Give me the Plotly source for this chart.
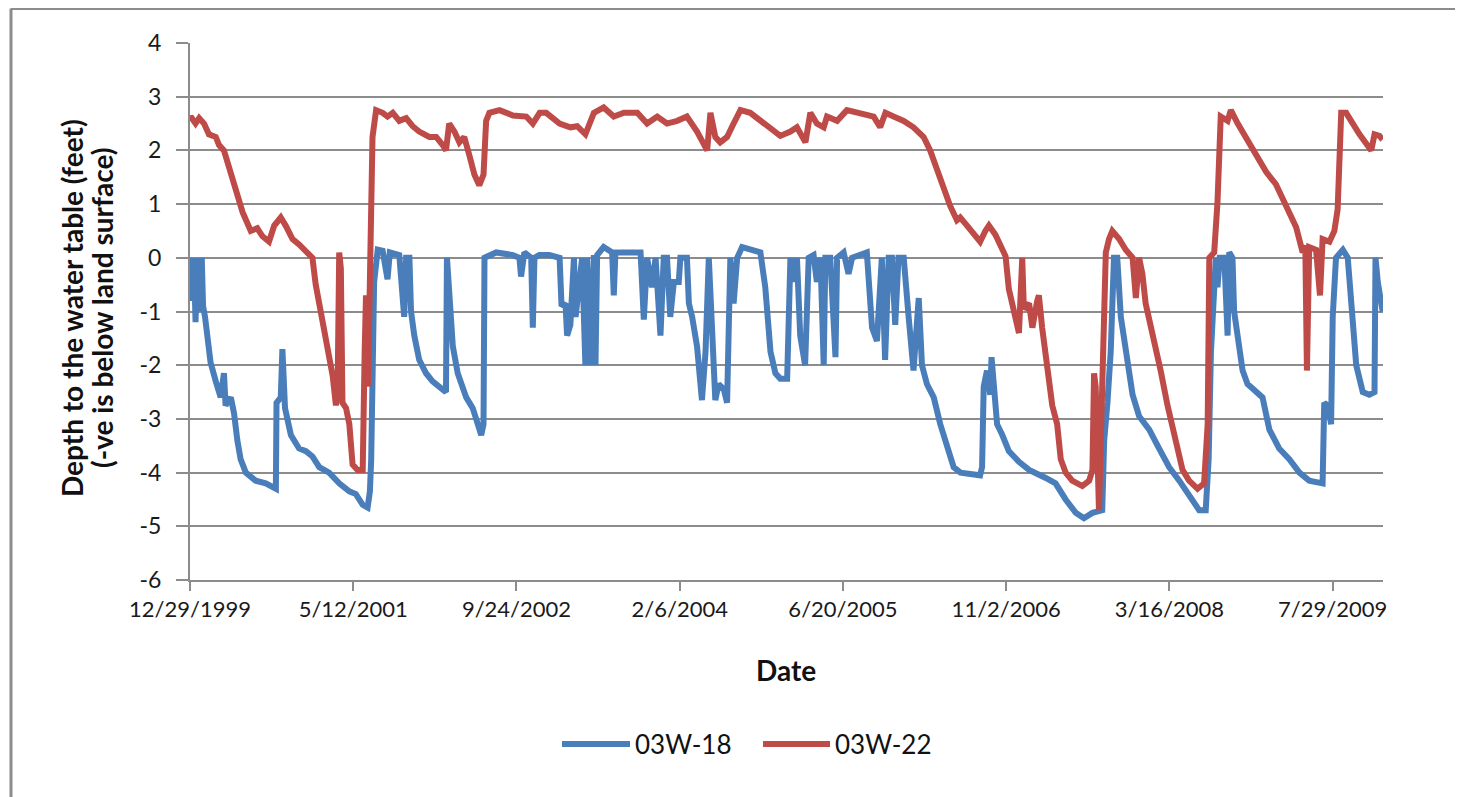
import pandas as pd
import plotly.graph_objects as go

# x values: days elapsed since 12/29/1999
start_date = "1999-12-29"

days_18 = [0, 5, 12, 17, 22, 30, 36, 40, 46, 53, 63, 79, 94, 104, 109, 125, 135, 145, 155, 171,
           201, 232, 263, 265, 278, 283, 291, 309, 334, 355, 375, 396, 426, 457, 488, 508, 529, 544,
           551, 555, 559, 564, 575, 590, 605, 612, 641, 656, 662, 672, 677, 687, 702, 723, 743, 764,
           784, 787, 794, 805, 820, 835, 846, 866, 881, 892, 899, 902, 938, 989, 1009, 1014, 1024,
           1045, 1050, 1055, 1070, 1101, 1132, 1138, 1150, 1155, 1165, 1176, 1181, 1191, 1201, 1211,
           1216, 1227, 1237, 1242, 1247, 1267, 1293, 1298, 1303, 1380, 1390, 1400, 1415, 1426, 1441,
           1451, 1461, 1471, 1482, 1497, 1502, 1522, 1528, 1538, 1553, 1568, 1579, 1589, 1599, 1609,
           1619, 1635, 1645, 1655, 1665, 1676, 1691, 1747, 1762, 1778, 1793, 1808, 1829, 1839, 1849,
           1859, 1869, 1884, 1895, 1910, 1920, 1931, 1941, 1946, 1961, 1977, 1982, 2002, 2017, 2028,
           2073, 2089, 2104, 2119, 2129, 2140, 2150, 2160, 2170, 2186, 2201, 2216, 2232, 2242, 2257,
           2278, 2298, 2319, 2339, 2360, 2420, 2426, 2431, 2441, 2451, 2455, 2461, 2467, 2472, 2488,
           2508, 2539, 2570, 2621, 2651, 2682, 2713, 2738, 2764, 2794, 2800, 2810, 2820, 2830, 2840,
           2851, 2866, 2887, 2907, 2938, 2968, 2999, 3030, 3060, 3091, 3111, 3120, 3127, 3132, 3142,
           3147, 3154, 3168, 3178, 3183, 3193, 3198, 3209, 3224, 3239, 3265, 3285, 3306, 3336, 3367,
           3398, 3428, 3469, 3474, 3485, 3495, 3500, 3510, 3531, 3546, 3556, 3572, 3592, 3612, 3628,
           3631, 3638, 3653]
depth_18 = [0.0, -0.8, 0.0, -1.2, 0.0, -1.0, 0.0, -0.9, -1.1, -1.55, -1.95, -2.3, -2.6, -2.15, -2.75,
            -2.6, -2.9, -3.4, -3.75, -4.0, -4.15, -4.2, -4.3, -2.7, -2.6, -1.7, -2.8, -3.3, -3.55,
            -3.6, -3.7, -3.9, -4.0, -4.2, -4.35, -4.4, -4.6, -4.65, -4.35, -3.75, -2.3, -0.45, 0.15,
            0.13, -0.4, 0.1, 0.05, -1.1, 0.0, 0.0, -1.0, -1.45, -1.9, -2.15, -2.3, -2.4, -2.5, 0.0,
            -0.6, -1.65, -2.15, -2.4, -2.6, -2.8, -3.15, -3.3, -3.1, 0.0, 0.1, 0.05, 0.0, -0.35, 0.1,
            0.0, -1.3, 0.0, 0.05, 0.05, 0.0, -0.9, -0.85, -1.45, -1.25, 0.0, -1.1, -0.55, 0.0, -2.0,
            0.0, -2.0, 0.05, -2.0, 0.05, 0.2, 0.1, -0.7, 0.1, 0.1, -1.15, 0.0, -0.55, 0.0, -1.45,
            0.0, 0.0, -1.1, -0.45, -0.45, 0.0, 0.0, -0.85, -1.1, -1.65, -2.65, -1.75, 0.0, -1.45,
            -2.65, -2.35, -2.45, -2.7, 0.0, -0.85, 0.0, 0.2, 0.1, -0.55, -1.75, -2.15, -2.25, -2.25,
            0.0, -0.45, 0.0, -1.45, -2.0, 0.0, 0.05, -0.45, 0.0, -2.0, 0.0, 0.0, -1.85, 0.0, 0.1,
            -0.3, 0.0, 0.1, -1.3, -1.55, 0.0, -1.9, 0.0, 0.0, -1.25, 0.0, 0.0, -1.1, -2.1, -0.75,
            -2.0, -2.35, -2.6, -3.1, -3.55, -3.9, -4.0, -4.05, -3.9, -2.4, -2.1, -2.55, -1.85, -2.2,
            -2.75, -3.1, -3.3, -3.6, -3.8, -3.95, -4.1, -4.2, -4.5, -4.75, -4.85, -4.75, -4.7, -3.4,
            -2.7, -1.75, 0.0, 0.0, -1.1, -1.75, -2.55, -2.95, -3.2, -3.55, -3.9, -4.15, -4.4, -4.7,
            -4.7, -3.75, -1.75, -0.95, 0.0, -0.55, 0.0, 0.0, -1.45, 0.1, 0.0, -1.0, -1.45, -2.1,
            -2.35, -2.5, -2.6, -3.2, -3.55, -3.75, -4.0, -4.15, -4.2, -2.7, -2.75, -3.1, -1.1, 0.0,
            0.15, 0.0, -0.85, -2.0, -2.5, -2.55, -2.5, 0.0, -0.45, -1.0]

days_22 = [0, 2, 17, 28, 43, 58, 79, 89, 104, 120, 140, 161, 186, 206, 222, 242, 258, 278, 293, 314,
           334, 355, 375, 385, 406, 421, 437, 447, 452, 457, 462, 467, 478, 488, 498, 513, 529, 535,
           539, 545, 551, 559, 570, 590, 605, 621, 641, 662, 682, 702, 733, 754, 774, 784, 794, 810,
           825, 840, 856, 871, 886, 899, 907, 917, 948, 989, 1030, 1050, 1071, 1091, 1132, 1165,
           1186, 1211, 1237, 1267, 1298, 1329, 1370, 1400, 1431, 1461, 1492, 1522, 1553, 1574, 1584,
           1594, 1609, 1624, 1645, 1665, 1686, 1716, 1747, 1778, 1808, 1839, 1859, 1885, 1900, 1920,
           1941, 1951, 1982, 2012, 2053, 2094, 2114, 2130, 2155, 2186, 2216, 2247, 2267, 2288, 2308,
           2328, 2349, 2359, 2380, 2400, 2420, 2436, 2447, 2467, 2498, 2508, 2529, 2539, 2549, 2554,
           2570, 2580, 2595, 2600, 2610, 2626, 2641, 2656, 2667, 2682, 2702, 2733, 2754, 2764, 2769,
           2774, 2784, 2794, 2800, 2805, 2815, 2825, 2846, 2866, 2887, 2897, 2907, 2917, 2927, 2948,
           2973, 2994, 3019, 3040, 3060, 3086, 3106, 3117, 3122, 3137, 3147, 3157, 3178, 3188, 3209,
           3255, 3296, 3326, 3357, 3388, 3408, 3416, 3421, 3428, 3449, 3461, 3469, 3490, 3505, 3515,
           3526, 3541, 3582, 3618, 3628, 3643, 3653]
depth_22 = [2.6, 2.63, 2.5, 2.6, 2.5, 2.3, 2.25, 2.1, 2.0, 1.65, 1.25, 0.85, 0.5, 0.55, 0.4, 0.3, 0.6,
            0.75, 0.6, 0.35, 0.25, 0.1, 0.0, -0.5, -1.2, -1.75, -2.2, -2.75, -2.5, 0.1, -0.2, -2.7,
            -2.8, -3.1, -3.85, -3.95, -3.95, -1.75, -0.7, -2.4, -0.45, 2.25, 2.75, 2.7, 2.63, 2.7,
            2.55, 2.6, 2.45, 2.35, 2.25, 2.25, 2.1, 2.0, 2.5, 2.35, 2.15, 2.25, 1.9, 1.55, 1.35, 1.55,
            2.55, 2.7, 2.75, 2.65, 2.63, 2.5, 2.7, 2.7, 2.5, 2.43, 2.45, 2.3, 2.7, 2.8, 2.63, 2.7, 2.7,
            2.5, 2.63, 2.5, 2.55, 2.63, 2.35, 2.1, 2.0, 2.7, 2.25, 2.15, 2.25, 2.5, 2.75, 2.7, 2.55,
            2.43, 2.27, 2.35, 2.43, 2.15, 2.7, 2.5, 2.43, 2.63, 2.55, 2.75, 2.7, 2.63, 2.43, 2.7, 2.63,
            2.55, 2.43, 2.25, 2.0, 1.63, 1.3, 0.97, 0.7, 0.75, 0.6, 0.43, 0.3, 0.5, 0.6, 0.43, 0.03,
            -0.58, -1.1, -1.4, 0.0, -0.95, -0.85, -1.3, -0.8, -0.7, -1.3, -2.1, -2.75, -3.1, -3.75,
            -4.0, -4.15, -4.25, -4.15, -3.95, -2.15, -2.4, -4.7, -2.4, -1.1, 0.1, 0.35, 0.5, 0.35,
            0.15, 0.0, -0.75, 0.0, -0.3, -0.85, -1.4, -2.1, -2.75, -3.4, -3.95, -4.15, -4.3, -4.2,
            -3.1, 0.0, 0.1, 1.03, 2.63, 2.55, 2.75, 2.5, 2.0, 1.6, 1.37, 0.97, 0.57, 0.1, 0.23, -2.1,
            0.2, 0.15, -0.7, 0.35, 0.3, 0.5, 0.9, 2.7, 2.7, 2.3, 2.0, 2.3, 2.27, 2.2]

tick_labels = ["12/29/1999", "5/12/2001", "9/24/2002", "2/6/2004", "6/20/2005",
               "11/2/2006", "3/16/2008", "7/29/2009"]
y_ticks = [4, 3, 2, 1, 0, -1, -2, -3, -4, -5, -6]
y_tick_labels = ["4", "3", "2", "1", "0", "-1", "-2", "-3", "-4", "-5", "-6"]
series_names = ["03W-18", "03W-22"]
series_colors = ["#4A7EBB", "#BE4B48"]
x_title = "Date"
y_title_lines = ["Depth to the water table (feet)", "(-ve is below land surface)"]

t0 = pd.Timestamp(start_date)
x18 = t0 + pd.to_timedelta(days_18, unit="D")
x22 = t0 + pd.to_timedelta(days_22, unit="D")
tickvals = pd.to_datetime(tick_labels, format="%m/%d/%Y")

FONT = "Lato, 'Noto Sans', sans-serif"
GRID = "#8C8C8C"
TXT = "#1a1a1a"

# page body adds an 8px offset; plot area lands at x 190..1383, y 43..580 on screen
L, T, PW, PH = 182, 35, 1193, 537


def px(xs):   # screen x pixel -> paper x
    return (xs - 8 - L) / PW


def py(ys):   # screen y pixel -> paper y
    return (T + PH - (ys - 8)) / PH


fig = go.Figure()
for name, xs, ys, col in [(series_names[0], x18, depth_18, series_colors[0]),
                          (series_names[1], x22, depth_22, series_colors[1])]:
    fig.add_trace(go.Scatter(x=xs, y=ys, mode="lines", name=name, showlegend=False,
                             line=dict(color=col, width=6)))

fig.update_layout(
    width=1463, height=797,
    margin=dict(l=L, r=1463 - L - PW, t=T, b=797 - T - PH),
    paper_bgcolor="white", plot_bgcolor="white",
    font=dict(family=FONT, size=22, color=TXT),
    showlegend=False,
    xaxis=dict(
        range=[t0, pd.Timestamp("2009-12-30")],
        tickmode="array", tickvals=tickvals, ticktext=tick_labels,
        showgrid=False, showline=True, linecolor=GRID, linewidth=2,
        ticks="outside", ticklen=9, tickwidth=1.5, tickcolor=GRID,
        tickfont=dict(size=22, color=TXT),
        zeroline=False,
    ),
    yaxis=dict(
        range=[-6, 4], tickmode="array", tickvals=y_ticks, ticktext=y_tick_labels,
        showgrid=True, gridcolor=GRID, gridwidth=1.5,
        showline=True, linecolor=GRID, linewidth=2,
        ticks="outside", ticklen=12, tickwidth=1.5, tickcolor=GRID,
        ticklabelstandoff=10,
        tickfont=dict(size=23, color=TXT),
        zeroline=False,
    ),
)

# axis titles
fig.add_annotation(text="<b>%s</b>" % x_title, xref="paper", yref="paper",
                   x=px(786), y=py(670), showarrow=False,
                   font=dict(size=28, color="#111111"), xanchor="center", yanchor="middle")
for i, (line_text, xc) in enumerate(zip(y_title_lines, [72, 102])):
    fig.add_annotation(text="<b>%s</b>" % line_text, xref="paper", yref="paper",
                       x=px(xc), y=py(308), showarrow=False, textangle=-90,
                       font=dict(size=28, color="#111111"), xanchor="center", yanchor="middle")

# legend (line samples + labels)
legend_items = [(562, 630, 633), (763, 830, 833)]
for (lx0, lx1, tx), name, col in zip(legend_items, series_names, series_colors):
    fig.add_shape(type="line", xref="paper", yref="paper",
                  x0=px(lx0), x1=px(lx1), y0=py(744), y1=py(744),
                  line=dict(color=col, width=6))
    fig.add_annotation(text=name, xref="paper", yref="paper", x=px(tx), y=py(744),
                       showarrow=False, xanchor="left", yanchor="middle",
                       font=dict(size=26, color="#111111"))

# outer chart-area border (top and left edges visible)
fig.add_shape(type="line", xref="paper", yref="paper",
              x0=px(11), x1=1.2, y0=py(8.5), y1=py(8.5), line=dict(color="#8C8C8C", width=3))
fig.add_shape(type="line", xref="paper", yref="paper",
              x0=px(11), x1=px(11), y0=py(8.5), y1=py(820), line=dict(color="#8C8C8C", width=3))

fig.write_html("out.html")
